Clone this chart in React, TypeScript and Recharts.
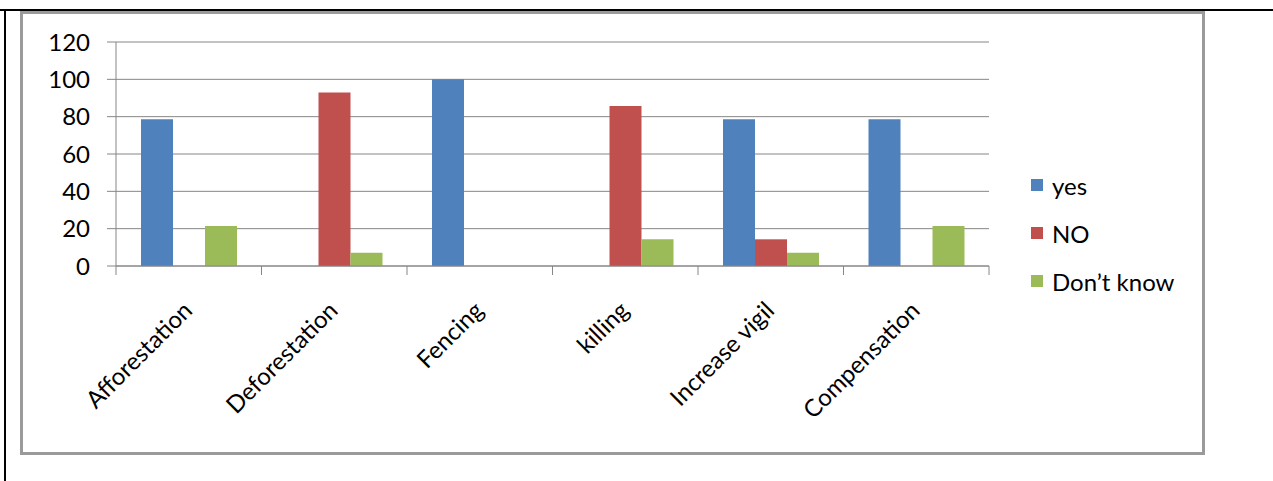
import { Bar, BarChart, CartesianGrid, Legend, XAxis, YAxis } from "recharts";

const categories = [
  "Afforestation",
  "Deforestation",
  "Fencing",
  "killing",
  "Increase vigil",
  "Compensation",
];
const yesValues = [78.6, 0, 100, 0, 78.6, 78.6];
const noValues = [0, 92.9, 0, 85.7, 14.3, 0];
const dontKnowValues = [21.4, 7.1, 0, 14.3, 7.1, 21.4];
const yTicks = [0, 20, 40, 60, 80, 100, 120];

const seriesList = [
  { key: "yes", name: "yes", color: "#4F81BD" },
  { key: "no", name: "NO", color: "#C0504D" },
  { key: "dk", name: "Don\u2019t know", color: "#9BBB59" },
];

const data = categories.map((c, i) => ({
  name: c,
  yes: yesValues[i],
  no: noValues[i],
  dk: dontKnowValues[i],
}));

const FONT = "Lato, 'Noto Sans', sans-serif";
const FONT_SIZE = 24;
const AXIS = "#868686";

function CategoryTick(props: any) {
  const { x, y, payload, index, visibleTicksCount } = props;
  const half = payload?.offset || 72.75;
  const last = index === (visibleTicksCount ?? categories.length) - 1;
  const ax = x + 5;
  const ay = y + 37;
  return (
    <g>
      <line x1={x - half} x2={x - half} y1={y - 9} y2={y} stroke={AXIS} />
      {last && <line x1={x + half} x2={x + half} y1={y - 9} y2={y} stroke={AXIS} />}
      <text
        x={ax}
        y={ay}
        textAnchor="end"
        fontSize={FONT_SIZE}
        fontFamily={FONT}
        fill="#000"
        transform={`rotate(-45, ${ax}, ${ay})`}
      >
        {payload.value}
      </text>
    </g>
  );
}

function LegendBox() {
  return (
    <div style={{ fontFamily: FONT, fontSize: FONT_SIZE, color: "#000" }}>
      {seriesList.map((s) => (
        <div key={s.key} style={{ display: "flex", alignItems: "center", height: 48 }}>
          <span
            style={{
              display: "inline-block",
              width: 12,
              height: 12,
              background: s.color,
              marginRight: 9,
            }}
          />
          <span>{s.name}</span>
        </div>
      ))}
    </div>
  );
}

export default function App() {
  return (
    <div
      style={{
        position: "fixed",
        left: 0,
        top: 0,
        width: 1273,
        height: 481,
        background: "#fff",
        overflow: "hidden",
      }}
    >
      {/* page table cell lines */}
      <div style={{ position: "absolute", left: 0, top: 9, width: 1273, height: 2, background: "#000" }} />
      <div style={{ position: "absolute", left: 4, top: 9, width: 2, height: 472, background: "#000" }} />
      <div
        style={{
          position: "absolute",
          left: 20,
          top: 11,
          width: 1179,
          height: 438,
          border: "3px solid #9a9a9a",
        }}
      />
      <div style={{ position: "absolute", left: 0, top: 0, width: 1273, height: 481, overflow: "hidden" }}>
        <BarChart
          width={1273}
          height={481}
          data={data}
          margin={{ top: 42, right: 284, left: 0, bottom: 0 }}
          barCategoryGap={25}
          barGap={0}
        >
          <CartesianGrid vertical={false} stroke={AXIS} strokeWidth={1} />
          <YAxis
            domain={[0, 120]}
            ticks={yTicks}
            width={116}
            tickSize={9}
            tickMargin={17}
            axisLine={{ stroke: AXIS }}
            tickLine={{ stroke: AXIS }}
            tick={{ fill: "#000", fontSize: FONT_SIZE, fontFamily: FONT }}
            interval={0}
          />
          <XAxis
            dataKey="name"
            height={215}
            interval={0}
            tickSize={9}
            tickMargin={0}
            axisLine={{ stroke: AXIS }}
            tickLine={false}
            tick={<CategoryTick />}
          />
          <Legend
            layout="vertical"
            align="center"
            verticalAlign="middle"
            content={() => <LegendBox />}
            wrapperStyle={{ left: 1031, top: 161, width: 170 }}
          />
          {seriesList.map((s) => (
            <Bar key={s.key} dataKey={s.key} name={s.name} fill={s.color} isAnimationActive={false} />
          ))}
        </BarChart>
      </div>
    </div>
  );
}
